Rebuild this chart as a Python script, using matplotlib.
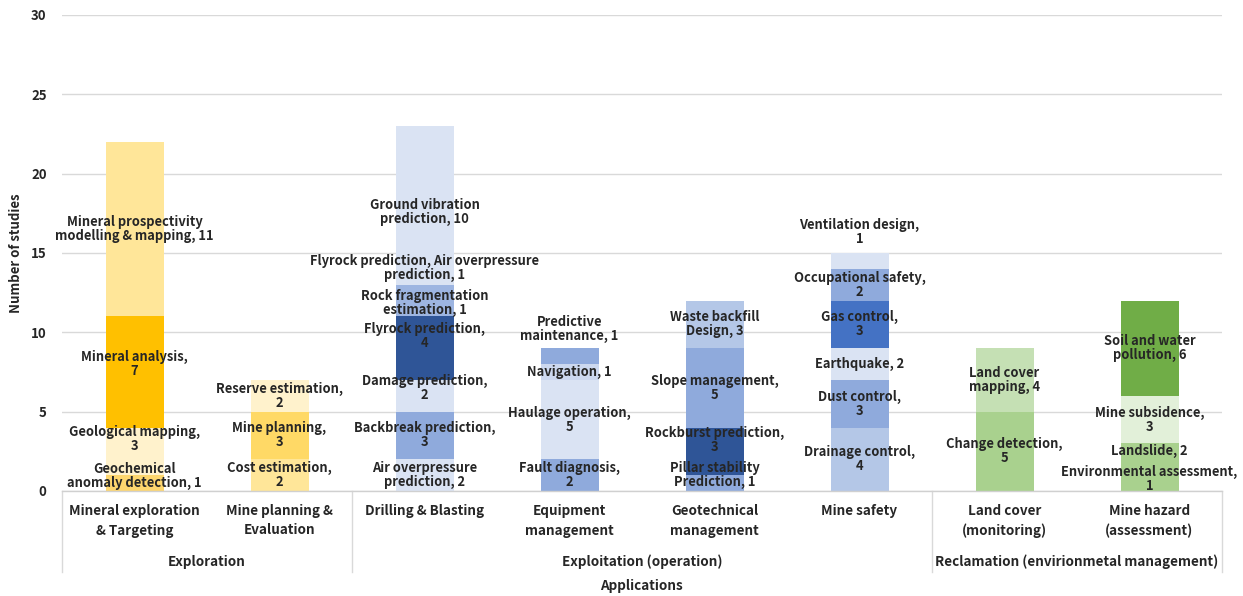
import matplotlib
matplotlib.use("Agg")
import matplotlib.pyplot as plt
import matplotlib.transforms as mtransforms
from matplotlib.lines import Line2D

plt.rcParams['font.family'] = ['Noto Sans CJK KR', 'DejaVu Sans']

# ---- data -------------------------------------------------------------
categories = [
    "Mineral exploration\n& Targeting",
    "Mine planning &\nEvaluation",
    "Drilling & Blasting",
    "Equipment\nmanagement",
    "Geotechnical\nmanagement",
    "Mine safety",
    "Land cover\n(monitoring)",
    "Mine hazard\n(assessment)",
]

groups = ["Exploration", "Exploitation (operation)",
          "Reclamation (envirionmetal management)"]
group_sizes = [2, 4, 2]

# stacked segments per application, bottom to top
seg_names = [
    ["Geochemical\nanomaly detection, ", "Geological mapping,\n",
     "Mineral analysis,\n", "Mineral prospectivity\nmodelling & mapping, "],
    ["Cost estimation,\n", "Mine planning,\n", "Reserve estimation,\n"],
    ["Air overpressure\nprediction, ", "Backbreak prediction,\n",
     "Damage prediction,\n", "Flyrock prediction,\n",
     "Rock fragmentation\nestimation, ",
     "Flyrock prediction, Air overpressure\nprediction, ",
     "Ground vibration\nprediction, "],
    ["Fault diagnosis,\n", "Haulage operation,\n", "Navigation, ",
     "Predictive\nmaintenance, "],
    ["Pillar stability\nPrediction, ", "Rockburst prediction,\n",
     "Slope management,\n", "Waste backfill\nDesign, "],
    ["Drainage control,\n", "Dust control,\n", "Earthquake, ",
     "Gas control,\n", "Occupational safety,\n", "Ventilation design,\n"],
    ["Change detection,\n", "Land cover\nmapping, "],
    ["Environmental assessment,\n", "Landslide, ", "Mine subsidence,\n",
     "Soil and water\npollution, "],
]

seg_values = [
    [1, 3, 7, 11],
    [2, 3, 2],
    [2, 3, 2, 4, 1, 1, 10],
    [2, 5, 1, 1],
    [1, 3, 5, 3],
    [4, 3, 2, 3, 2, 1],
    [5, 4],
    [1, 2, 3, 6],
]

seg_colors = [
    ["#FDD66E", "#FFF2CC", "#FFC000", "#FFE699"],
    ["#FFE699", "#FFD966", "#FFF2CC"],
    ["#DAE3F3", "#8FAADC", "#DAE3F3", "#2F5597", "#9DB5E1", "#9DB5E1", "#DAE3F3"],
    ["#8FAADC", "#DAE3F3", "#CCD8EF", "#8FAADC"],
    ["#8FAADC", "#2F5597", "#8FAADC", "#B4C7E7"],
    ["#B4C7E7", "#8FAADC", "#DAE3F3", "#4472C4", "#8FAADC", "#DAE3F3"],
    ["#A9D18E", "#C5E0B4"],
    ["#A9D18E", "#A9D18E", "#E2F0D9", "#70AD47"],
]

# vertical nudges (in data units) for labels that would collide
label_nudge = {
    (0, 0): 0.45, (0, 1): 0.8, (0, 2): 0.5,
    (2, 2): 0.5, (2, 3): 0.75, (2, 4): 0.35, (2, 5): 1.55, (2, 6): -0.4,
    (3, 3): 1.7,
    (4, 0): 0.5, (4, 1): 0.7,
    (5, 5): 1.8,
    (7, 0): 0.25, (7, 1): 0.5,
}

TXT = "#262626"
W = 1243
H = 596

fig = plt.figure(figsize=(W / 100, H / 100), dpi=100)
ax = fig.add_axes([62 / W, 1 - 491 / H, (1222 - 62) / W, (491 - 15) / H])

x = list(range(len(categories)))
for i, (vals, names, cols) in enumerate(zip(seg_values, seg_names, seg_colors)):
    bottom = 0
    for j, (v, nm, c) in enumerate(zip(vals, names, cols)):
        ax.bar(x[i], v, bottom=bottom, width=0.4, color=c, edgecolor='none', zorder=2)
        yc = bottom + v / 2 + label_nudge.get((i, j), 0)
        ax.text(x[i], yc, f"{nm}{v}", ha='center', va='center',
                fontsize=9.3, fontweight='bold', color=TXT, zorder=4,
                linespacing=1.0)
        bottom += v

ax.set_xlim(-0.5, len(categories) - 0.5)
ax.set_ylim(0, 30)
ax.set_yticks(range(0, 31, 5))
ax.set_yticklabels([str(t) for t in range(0, 31, 5)], fontsize=9.5,
                   fontweight='bold', color=TXT)
ax.tick_params(axis='y', length=0, pad=11)
ax.set_xticks([])
ax.grid(axis='y', color='#D9D9D9', linewidth=1, zorder=0)
ax.set_axisbelow(True)
for s in ['left', 'right', 'top']:
    ax.spines[s].set_visible(False)
ax.spines['bottom'].set_color('#D0D0D0')
ax.spines['bottom'].set_linewidth(1)

ax.set_ylabel("Number of studies", fontsize=9.5, fontweight='bold', color=TXT,
              labelpad=6)

# multi-level category axis below the plot
trans = mtransforms.blended_transform_factory(ax.transData, fig.transFigure)
for i, cat in enumerate(categories):
    ax.text(x[i], 1 - 504 / H, cat, transform=trans, ha='center', va='top',
            fontsize=9.7, fontweight='bold', color=TXT, linespacing=1.5)

edges = [-0.5]
for n in group_sizes:
    edges.append(edges[-1] + n)
for k, g in enumerate(groups):
    ax.text((edges[k] + edges[k + 1]) / 2, 1 - 562 / H, g, transform=trans,
            ha='center', va='center', fontsize=9.7, fontweight='bold', color=TXT)
for e in edges:
    ax.add_line(Line2D([e, e], [1 - 491 / H, 1 - 572 / H], transform=trans,
                       color='#D9D9D9', linewidth=1, clip_on=False))

fig.text(641 / W, 1 - 586 / H, "Applications", ha='center', va='center',
         fontsize=9.7, fontweight='bold', color=TXT)

fig.savefig("out.png", dpi=100, facecolor='white')
